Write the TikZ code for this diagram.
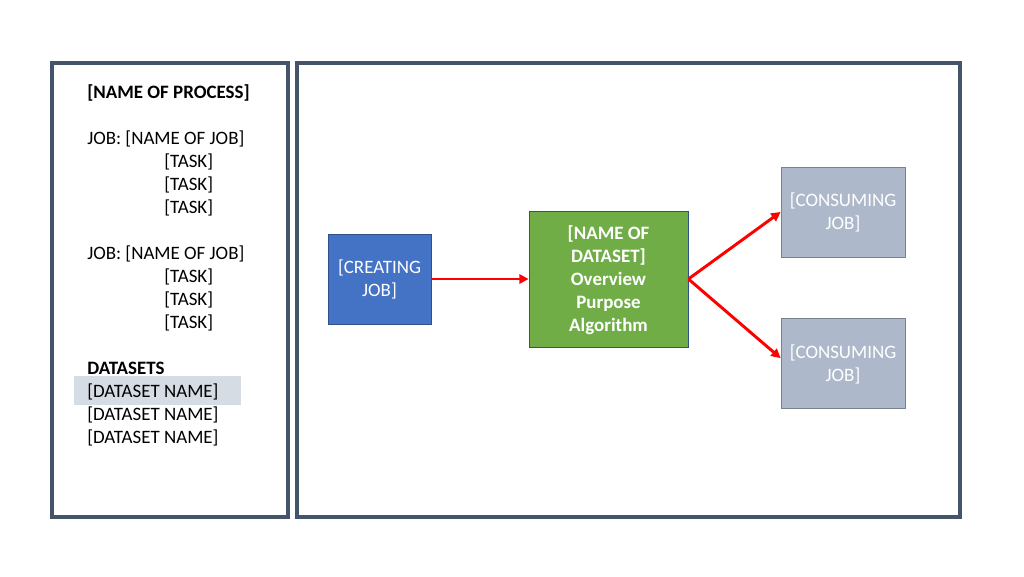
\documentclass[tikz,border=0pt]{standalone}
\usepackage{fontspec}
\setmainfont{Carlito}
\usetikzlibrary{arrows.meta}

\definecolor{panelcol}{RGB}{68,84,106}
\definecolor{jobblue}{RGB}{68,114,196}
\definecolor{setgreen}{RGB}{112,173,71}
\definecolor{consgray}{RGB}{173,185,202}
\definecolor{markgray}{RGB}{214,220,228}

\tikzset{
  panel/.style={draw=panelcol, line width=2.3pt},
  listtext/.style={anchor=west, inner sep=0.75pt, yshift=-1.2pt, font=\fontsize{14.2}{17.25}\selectfont},
  jobbox/.style={draw=#1!70!black, line width=0.6pt, text=white, align=center,
    font=\fontsize{14.2}{17.25}\selectfont},
  flow/.style={draw=red, line width=2.2pt, -{Triangle[length=7pt,width=7pt]}}
}

\begin{document}
\begin{tikzpicture}[x=0.75pt,y=0.75pt,yscale=-1,xscale=1]
\useasboundingbox (0,0) rectangle (1024,576);

%Panels
\draw [panel] (52,63) rectangle (288,517);
\draw [panel] (297,63) rectangle (960,517);

%Highlight of first dataset
\fill [markgray] (74,376) rectangle (241,405);

% Text Node
\draw (86,91) node [listtext] (proc) {\textbf{[NAME OF PROCESS]}};
% Text Node
\draw (86,137) node [listtext] (joba) {JOB: [NAME OF JOB]};
\foreach \y/\n in {160/1,183/2,206/3}
  \draw (163,\y) node [listtext] (taska\n) {[TASK]};
% Text Node
\draw (86,252) node [listtext] (jobb) {JOB: [NAME OF JOB]};
\foreach \y/\n in {275/1,298/2,321/3}
  \draw (163,\y) node [listtext] (taskb\n) {[TASK]};
% Text Node
\draw (86,367) node [listtext] (sets) {\textbf{DATASETS}};
\foreach \y/\n in {390/1,413/2,436/3}
  \draw (86,\y) node [listtext] (set\n) {[DATASET NAME]};

%Job boxes
\draw (379.5,279) node [jobbox=jobblue, fill=jobblue, minimum width=77.25pt, minimum height=67.5pt, text depth=1pt] (create) {[CREATING\\JOB]};
\draw (608.5,279) node [jobbox=jobblue, fill=setgreen, minimum width=119.25pt, minimum height=102pt, text depth=1pt, font=\fontsize{14.2}{17.25}\selectfont\bfseries] (dataset) {[NAME OF\\DATASET]\\Overview\\Purpose\\Algorithm};
\draw (843,212) node [jobbox=consgray, fill=consgray, minimum width=93pt, minimum height=67.5pt, text depth=1pt] (consa) {[CONSUMING\\JOB]};
\draw (843,363.5) node [jobbox=consgray, fill=consgray, minimum width=93pt, minimum height=67pt, text depth=1pt] (consb) {[CONSUMING\\JOB]};

%Arrows
\draw [flow] (create) -- (dataset);
\draw [flow] (dataset.east) -- (consa.west);
\draw [flow] (dataset.east) -- ([yshift=-4pt]consb.west);

\end{tikzpicture}
\end{document}
